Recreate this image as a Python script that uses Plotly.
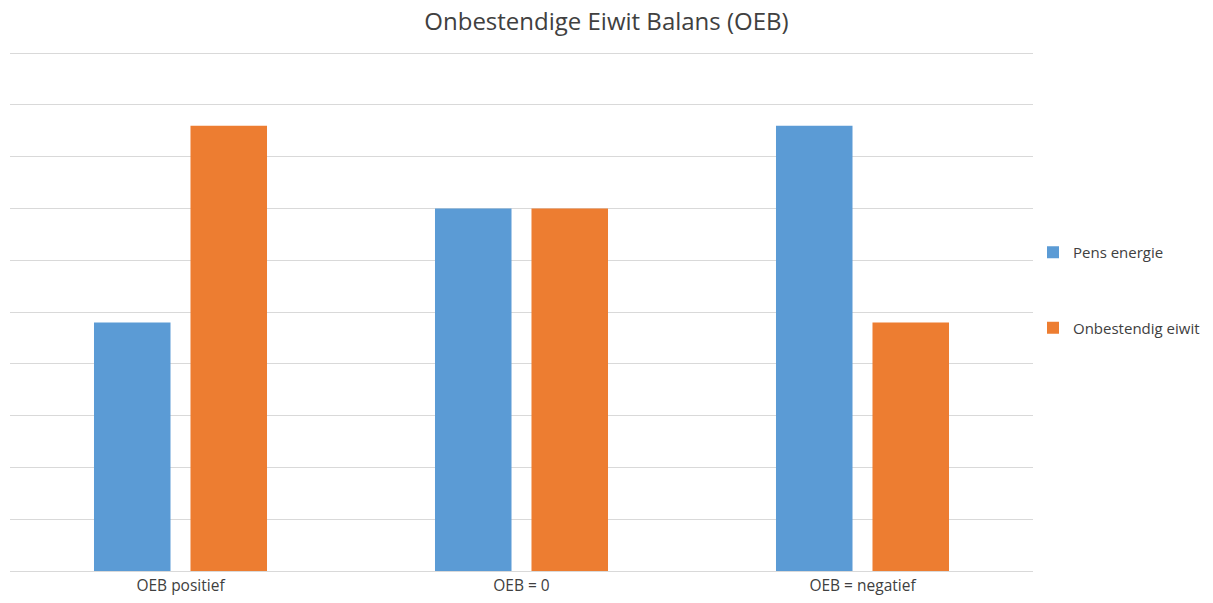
import plotly.graph_objects as go

categories = ["OEB positief", "OEB = 0", "OEB = negatief"]
pens_energie = [4.8, 7.0, 8.6]
onbestendig_eiwit = [8.6, 7.0, 4.8]
series_names = ["Pens energie", "Onbestendig eiwit"]
colors = ["#5B9BD5", "#ED7D31"]

fig = go.Figure()
fig.add_trace(go.Bar(x=categories, y=pens_energie, name=series_names[0],
                     marker=dict(color=colors[0], line=dict(width=0)), legendgroup="a"))
fig.add_trace(go.Bar(x=categories, y=onbestendig_eiwit, name=series_names[1],
                     marker=dict(color=colors[1], line=dict(width=0)), legendgroup="b"))

fig.update_layout(
    width=1213, height=603,
    margin=dict(l=10, r=180, t=48, b=32, autoexpand=False),
    paper_bgcolor="white", plot_bgcolor="white",
    title=dict(text="Onbestendige Eiwit Balans (OEB)", x=0.5, xanchor="center",
               xref="container", y=0.965, yanchor="middle",
               font=dict(family="Open Sans", size=24, color="#404040")),
    barmode="group", bargap=0.434, bargroupgap=0.207,
    font=dict(family="Open Sans", size=15, color="#404040"),
    legend=dict(xref="container", yref="container", x=1033 / 1213, xanchor="left",
                y=1 - 236 / 603, yanchor="top",
                tracegroupgap=53, font=dict(size=15, color="#404040"),
                itemwidth=30),
    showlegend=True,
)
fig.update_xaxes(showline=True, linecolor="#d9d9d9", linewidth=1, ticks="",
                 automargin=False, tickfont=dict(size=15.5, color="#404040"))
fig.update_yaxes(range=[0, 10.1], dtick=1, showticklabels=False, automargin=False,
                 gridcolor="#d9d9d9", gridwidth=1, zeroline=False, showline=False)

fig.write_html("out.html", config={"displayModeBar": False},
               post_script="document.body.style.margin='0';document.body.style.overflow='hidden';")
